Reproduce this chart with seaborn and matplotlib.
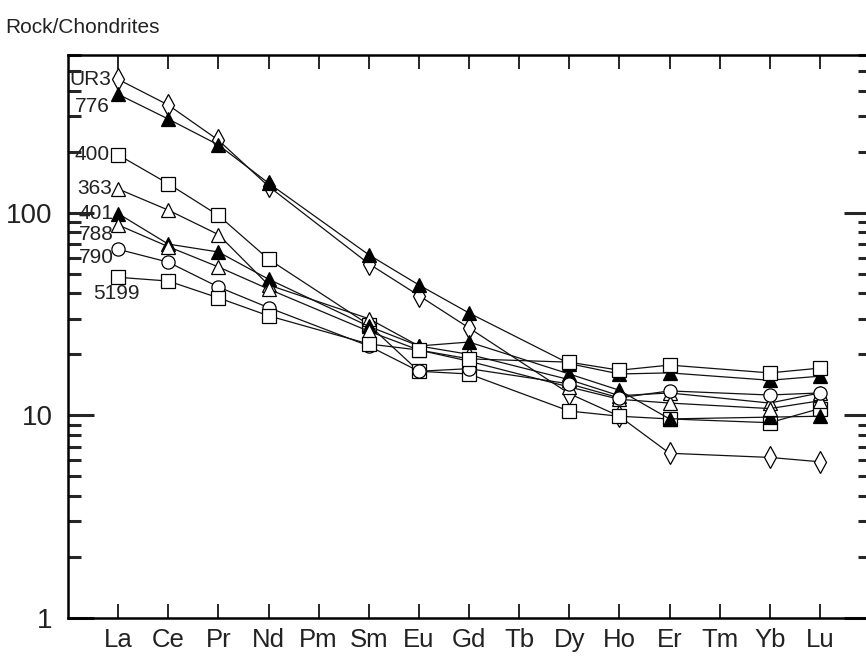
import numpy as np
import pandas as pd
import matplotlib
matplotlib.use("Agg")
import matplotlib.pyplot as plt
import seaborn as sns
from matplotlib.ticker import LogLocator, NullFormatter, FixedLocator

# ------------------------------------------
# Data (chondrite-normalised REE)
# ------------------------------------------
ree = ["La", "Ce", "Pr", "Nd", "Pm", "Sm", "Eu", "Gd", "Tb",
       "Dy", "Ho", "Er", "Tm", "Yb", "Lu"]
measured = ["La", "Ce", "Pr", "Nd", "Sm", "Eu", "Gd", "Dy", "Ho", "Er", "Yb", "Lu"]

ur3 = [455, 340, 228, 135, 56, 39, 27, 12.8, 9.9, 6.5, 6.2, 5.9]
s776 = [384, 290, 216, 140, 62, 44, 32, 18, 16, 16.2, 14.9, 15.6]
s400 = [193, 139, 97, 59, 28, 16.5, 16, 10.5, 9.9, 9.6, 9.2, 10.8]
s363 = [131, 103, 78, 44, 30, 22, 20, 15, 12.5, 12.9, 11.5, 12.9]
s401 = [99, 70, 64, 47, 27.5, 22, 23, 16, 13.3, 9.6, 9.8, 9.9]
s788 = [87, 68, 54, 42, 26, 21, 18.5, 13.8, 12, 11.5, 10.8, 11.8]
s790 = [66, 57, 43, 34, 22, 16.5, 17, 14.3, 12.2, 13.2, 12.6, 12.9]
s5199 = [48, 46, 38, 31, 22.5, 21, 19, 18.3, 16.7, 17.7, 16.2, 17.1]

sample_names = ["UR3", "776", "400", "363", "401", "788", "790", "5199"]
sample_values = [ur3, s776, s400, s363, s401, s788, s790, s5199]
sample_markers = ["d", "^", "s", "^", "^", "^", "o", "s"]
sample_filled = [False, True, False, False, True, False, False, False]
# label offset from the La point, in points (dx, dy, ha)
label_offsets = [(-5, 0, "right"), (-6, -9, "right"), (-6, 0, "right"),
                 (-4, 0, "right"), (-3, 0, "right"), (-3, -7, "right"),
                 (-3, -6, "right"), (-18, -12, "left")]

rows = []
for name, vals in zip(sample_names, sample_values):
    for el, v in zip(measured, vals):
        rows.append({"sample": name, "element": el,
                     "pos": ree.index(el) + 1, "value": v})
df = pd.DataFrame(rows)

# ------------------------------------------
# Style
# ------------------------------------------
sns.set_style("ticks")
plt.rcParams["font.family"] = ["Liberation Sans", "DejaVu Sans"]

# ------------------------------------------
# Plot
# ------------------------------------------
fig = plt.figure(figsize=(8.66, 6.59), dpi=100)
ax = fig.add_axes([68 / 866, 41 / 659, 802 / 866, 563 / 659])

for name, mk, filled in zip(sample_names, sample_markers, sample_filled):
    sub = df[df["sample"] == name]
    ms = 9.5 if mk != "d" else 11
    sns.lineplot(data=sub, x="pos", y="value", ax=ax, estimator=None,
                 sort=False, color="#111111", linewidth=0.9,
                 marker=mk, markersize=ms,
                 markerfacecolor="black" if filled else "white",
                 markeredgecolor="black", markeredgewidth=0.9)

ax.set_yscale("log")
ax.set_xlim(0, 16)
ax.set_ylim(1, 600)
ax.set_xlabel("")
ax.set_ylabel("")

ax.xaxis.set_major_locator(FixedLocator(range(1, 16)))
ax.set_xticklabels(ree)
ax.yaxis.set_major_locator(FixedLocator([1, 10, 100]))
ax.set_yticklabels(["1", "10", "100"])
ax.yaxis.set_minor_locator(LogLocator(base=10, subs=np.arange(2, 10)))
ax.yaxis.set_minor_formatter(NullFormatter())

ax.tick_params(axis="x", which="both", direction="in", top=True, bottom=True,
               length=10, width=1.4, pad=7, labelsize=18.5, labelcolor="#222222")
ax.tick_params(axis="y", which="major", direction="in", left=True, right=True,
               length=19, width=2.2, pad=11, labelsize=20, labelcolor="#222222")
ax.tick_params(axis="y", which="minor", direction="in", left=True, right=True,
               length=9, width=2.2)

for sp in ax.spines.values():
    sp.set_linewidth(1.8)
    sp.set_color("black")

# sample labels beside the La points
for name, vals, (dx, dy, ha) in zip(sample_names, sample_values, label_offsets):
    ax.annotate(name, xy=(1, vals[0]), xytext=(dx, dy),
                textcoords="offset points", ha=ha, va="center",
                fontsize=15, color="#222222")

fig.text(0.006, 1 - 33 / 659, "Rock/Chondrites", fontsize=15,
         va="baseline", ha="left", color="#222222")

fig.savefig("out.png", dpi=100)
